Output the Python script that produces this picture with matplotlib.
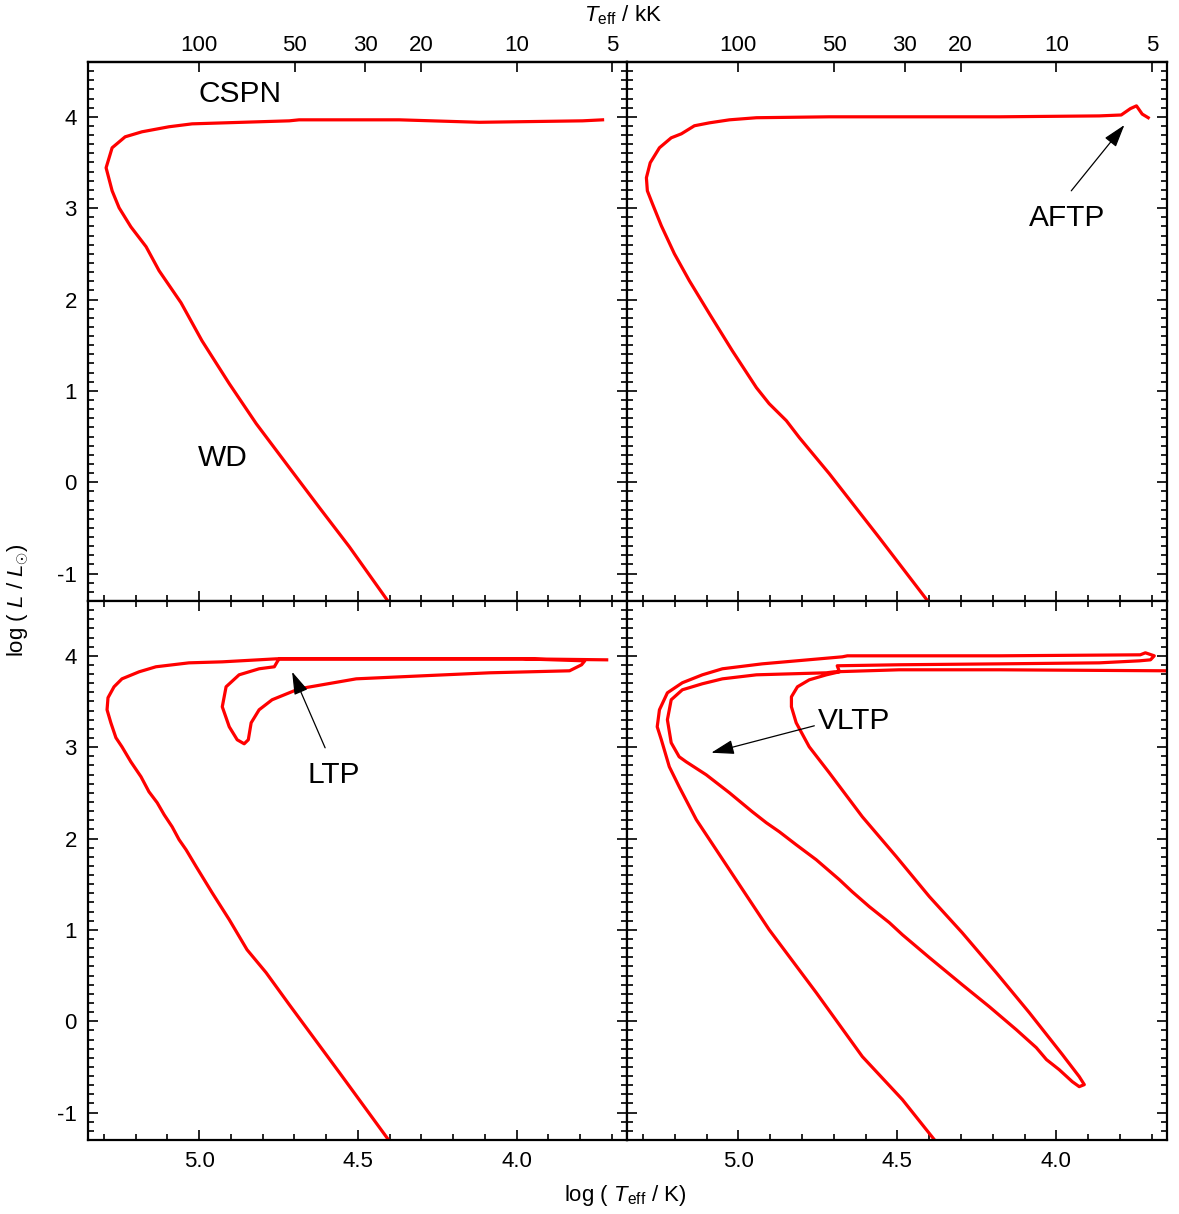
import numpy as np
import matplotlib.pyplot as plt

plt.rcParams['font.family'] = ['Liberation Sans', 'DejaVu Sans']
plt.rcParams['mathtext.fontset'] = 'custom'
plt.rcParams['mathtext.rm'] = 'Liberation Sans'
plt.rcParams['mathtext.it'] = 'Liberation Sans:italic'

# panel 1: normal post-AGB track (CSPN -> WD)
t_cspn = [3.729, 3.792, 4.117, 4.369, 4.685, 4.716, 5.022, 5.095, 5.180, 5.233, 5.274,
          5.293, 5.274, 5.252, 5.215, 5.167, 5.126, 5.057, 4.991, 4.905, 4.820, 4.716,
          4.621, 4.527, 4.404]
l_cspn = [3.967, 3.956, 3.940, 3.967, 3.967, 3.956, 3.923, 3.891, 3.836, 3.781, 3.661,
          3.442, 3.190, 3.004, 2.796, 2.578, 2.315, 1.965, 1.549, 1.079, 0.641, 0.160,
          -0.278, -0.705, -1.306]

# panel 2: AFTP
t_aftp = [3.711, 3.730, 3.748, 3.767, 3.796, 3.865, 4.179, 4.494, 4.714, 4.943, 5.028,
          5.091, 5.138, 5.179, 5.211, 5.248, 5.277, 5.289, 5.286, 5.270, 5.242, 5.201,
          5.154, 5.091, 5.019, 4.943, 4.903, 4.849, 4.808, 4.714, 4.557, 4.403]
l_aftp = [3.99, 4.03, 4.12, 4.09, 4.02, 4.01, 4.00, 4.00, 4.00, 3.99, 3.967,
          3.934, 3.902, 3.814, 3.770, 3.661, 3.497, 3.333, 3.190, 3.048, 2.807, 2.501,
          2.206, 1.845, 1.440, 1.035, 0.860, 0.674, 0.488, 0.094, -0.606, -1.306]

# panel 3: LTP
t_ltp = [3.716, 3.981, 4.401, 4.748, 4.754, 4.763, 4.811, 4.874, 4.915, 4.927, 4.905,
         4.880, 4.858, 4.845, 4.836, 4.811, 4.770, 4.685, 4.505, 4.297, 4.085, 3.833,
         3.795, 3.785, 3.981, 4.401, 4.757, 4.927, 5.032, 5.136, 5.189, 5.243, 5.268,
         5.287, 5.290, 5.278, 5.262, 5.243, 5.215, 5.183, 5.158, 5.132, 5.110, 5.085,
         5.063, 5.041, 5.009, 4.959, 4.905, 4.849, 4.789, 4.716, 4.558, 4.404]
l_ltp = [3.956, 3.967, 3.967, 3.967, 3.934, 3.880, 3.858, 3.792, 3.661, 3.442, 3.223,
         3.081, 3.037, 3.081, 3.267, 3.409, 3.519, 3.639, 3.748, 3.781, 3.814, 3.836,
         3.902, 3.945, 3.967, 3.967, 3.967, 3.934, 3.923, 3.880, 3.825, 3.748, 3.661,
         3.541, 3.409, 3.267, 3.103, 3.004, 2.840, 2.676, 2.512, 2.392, 2.260, 2.129,
         1.987, 1.877, 1.691, 1.407, 1.112, 0.783, 0.532, 0.182, -0.562, -1.295]

# panel 4: VLTP
t_vltp = [3.654, 4.179, 4.494, 4.698, 4.723, 4.943, 5.050, 5.113, 5.176, 5.211, 5.223,
          5.211, 5.186, 5.164, 5.101, 5.028, 4.956, 4.912, 4.871, 4.818, 4.755, 4.682,
          4.642, 4.588, 4.525, 4.484, 4.399, 4.296, 4.211, 4.126, 4.063, 4.031, 3.991,
          3.950, 3.928, 3.912, 3.928, 3.969, 3.981, 4.085, 4.189, 4.296, 4.399, 4.503,
          4.610, 4.714, 4.777, 4.818, 4.833, 4.833, 4.814, 4.777, 4.723, 4.682, 4.689,
          4.494, 4.179, 3.865, 3.739, 3.704, 3.692, 3.720, 3.736, 4.179, 4.494, 4.657,
          4.673, 4.925, 5.050, 5.113, 5.176, 5.223, 5.248, 5.255, 5.242, 5.217, 5.186,
          5.132, 5.028, 4.903, 4.755, 4.610, 4.484, 4.384]
l_vltp = [3.836, 3.847, 3.847, 3.825, 3.814, 3.792, 3.748, 3.694, 3.628, 3.519, 3.300,
          3.048, 2.895, 2.840, 2.698, 2.501, 2.293, 2.173, 2.074, 1.932, 1.768, 1.549,
          1.418, 1.254, 1.079, 0.947, 0.696, 0.400, 0.160, -0.092, -0.289, -0.420, -0.530,
          -0.661, -0.716, -0.694, -0.606, -0.420, -0.365, 0.094, 0.532, 0.969, 1.363, 1.801,
          2.238, 2.720, 3.004, 3.267, 3.442, 3.551, 3.661, 3.737, 3.792, 3.825, 3.891,
          3.902, 3.912, 3.923, 3.945, 3.956, 4.000, 4.033, 4.011, 4.000, 4.000, 4.000,
          3.989, 3.912, 3.858, 3.792, 3.705, 3.595, 3.409, 3.223, 3.081, 2.786, 2.567,
          2.206, 1.659, 1.002, 0.313, -0.387, -0.858, -1.295]

kk_ticks = [100, 50, 30, 20, 10, 5]

fig = plt.figure(figsize=(11.79, 12.14), dpi=100)
x0, xm, x1 = 88 / 1179, 627 / 1179, 1167 / 1179
y1, ym, y0 = 1 - 62 / 1214, 1 - 601 / 1214, 1 - 1140 / 1214
w, h = xm - x0, y1 - ym

ax1 = fig.add_axes([x0, ym, w, h])
ax2 = fig.add_axes([xm, ym, x1 - xm, h])
ax3 = fig.add_axes([x0, y0, w, ym - y0])
ax4 = fig.add_axes([xm, y0, x1 - xm, ym - y0])
axes = [ax1, ax2, ax3, ax4]
tracks = [(t_cspn, l_cspn), (t_aftp, l_aftp), (t_ltp, l_ltp), (t_vltp, l_vltp)]

for i, ax in enumerate(axes):
    t, l = tracks[i]
    ax.plot(t, l, color='#ff0000', lw=2.3, solid_joinstyle='round')
    ax.set_xlim(5.35, 3.652)
    ax.set_ylim(-1.3, 4.6)
    ax.set_xticks([5.0, 4.5, 4.0])
    ax.set_xticks(np.arange(3.7, 5.35, 0.1), minor=True)
    ax.set_yticks([-1, 0, 1, 2, 3, 4])
    ax.set_yticks(np.arange(-1.2, 4.6, 0.1), minor=True)
    ax.tick_params(which='both', direction='in', left=True, right=True, bottom=True,
                   top=(i >= 2), labelsize=16, width=1.2)
    ax.tick_params(which='major', length=7, pad=8)
    ax.tick_params(which='minor', length=4)
    for s in ax.spines.values():
        s.set_linewidth(1.6)
    ax.set_xticklabels(['5.0', '4.5', '4.0'])
    ax.set_yticklabels(['-1', '0', '1', '2', '3', '4'])
    if i < 2:
        ax.tick_params(labelbottom=False)
        sec = ax.secondary_xaxis('top', functions=(lambda x: 10 ** x / 1000.0,
                                                   lambda k: np.log10(np.asarray(k) * 1000.0)))
        sec.set_xticks(kk_ticks)
        sec.set_xticklabels([str(k) for k in kk_ticks])
        sec.xaxis.set_minor_locator(plt.NullLocator())
        sec.tick_params(direction='in', length=7, width=1.2, labelsize=16, pad=4)
        sec.spines['top'].set_linewidth(1.6)
    if i % 2 == 1:
        ax.tick_params(labelleft=False)

ax1.text(4.871, 4.25, 'CSPN', fontsize=21.5, ha='center', va='center')
ax1.text(4.924, 0.269, 'WD', fontsize=21.5, ha='center', va='center')

arrow = dict(arrowstyle='-|>,head_length=0.7,head_width=0.22', color='k', lw=0.9,
             mutation_scale=20, shrinkA=0, shrinkB=0)
ax2.text(3.965, 2.895, 'AFTP', fontsize=21.5, ha='center', va='center')
ax2.annotate('', xy=(3.786, 3.91), xytext=(3.953, 3.19), arrowprops=arrow)
ax3.text(4.577, 2.698, 'LTP', fontsize=21.5, ha='center', va='center')
ax3.annotate('', xy=(4.707, 3.825), xytext=(4.603, 2.993), arrowprops=arrow)
ax4.text(4.635, 3.289, 'VLTP', fontsize=21.5, ha='center', va='center')
ax4.annotate('', xy=(5.085, 2.939), xytext=(4.761, 3.234), arrowprops=arrow)

fig.text(625 / 1179, 1 - 1195 / 1214, r'log ( $T_{\rm eff}$ / K)', fontsize=16,
         ha='center', va='center')
fig.text(623 / 1179, 1 - 15 / 1214, r'$T_{\rm eff}$ / kK', fontsize=16,
         ha='center', va='center')
fig.text(18 / 1179, 1 - 600 / 1214, r'log ( $L$ / $L_{\odot}$)', fontsize=16,
         ha='center', va='center', rotation=90)

fig.savefig('out.png', dpi=100)
